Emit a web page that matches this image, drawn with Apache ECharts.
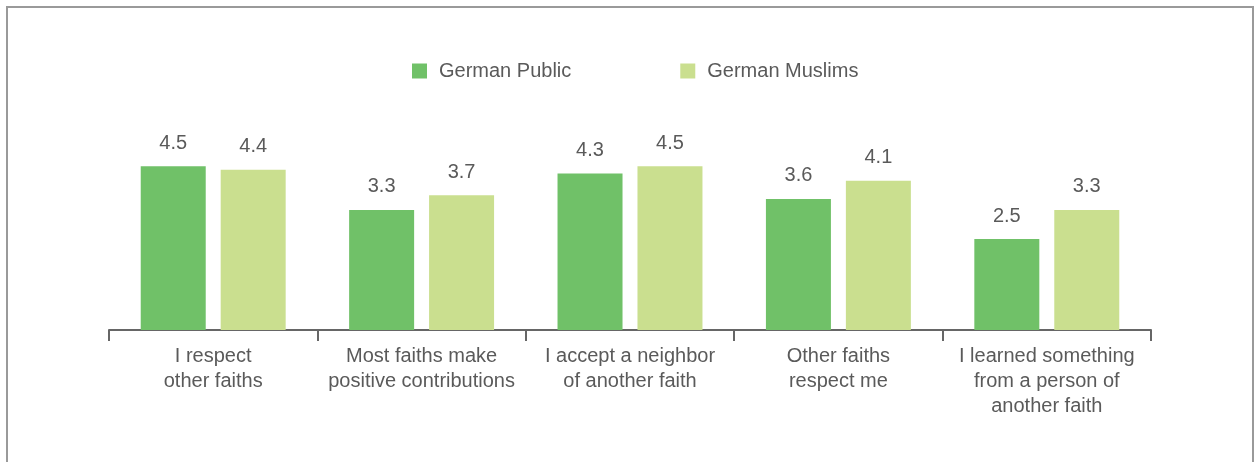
<!DOCTYPE html>
<html>
<head>
<meta charset="utf-8">
<script src="https://cdn.jsdelivr.net/npm/echarts@6/dist/echarts.min.js"></script>
<style>
html,body{margin:0;padding:0;background:#fff;}
#chart{width:1256px;height:462px;}
</style>
</head>
<body>
<div id="chart"></div>
<script>
const categories = [
  "I respect\nother faiths",
  "Most faiths make\npositive contributions",
  "I accept a neighbor\nof another faith",
  "Other faiths\nrespect me",
  "I learned something\nfrom a person of\nanother faith"
];
const seriesNames = ["German Public", "German Muslims"];
const germanPublic = [4.5, 3.3, 4.3, 3.6, 2.5];
const germanMuslims = [4.4, 3.7, 4.5, 4.1, 3.3];
const colors = ["#70c168", "#cadf8f"];

const font = "'Liberation Sans', Arial, Helvetica, sans-serif";
const textColor = "#5a5a5a";
const fs = 20;

const chart = echarts.init(document.getElementById('chart'), null, {renderer: 'canvas'});
chart.setOption({
  animation: false,
  backgroundColor: '#fff',
  graphic: [{
    type: 'rect',
    shape: {x: 7, y: 7, width: 1246, height: 480},
    style: {fill: 'none', stroke: '#9a9a9a', lineWidth: 2},
    silent: true
  }],
  legend: {
    top: 56,
    left: 407,
    itemWidth: 15,
    itemHeight: 15,
    itemGap: 109,
    icon: 'rect',
    textStyle: {fontFamily: font, fontSize: fs, color: textColor, padding: [0, 0, 0, 7]},
    data: seriesNames
  },
  grid: {left: 109, right: 105, top: 148, bottom: 132, containLabel: false},
  xAxis: {
    type: 'category',
    data: categories,
    axisLine: {lineStyle: {color: '#666', width: 2}},
    axisTick: {show: true, length: 11, lineStyle: {color: '#666', width: 2}},
    axisLabel: {fontFamily: font, fontSize: fs, color: textColor, lineHeight: 25, margin: 14, interval: 0}
  },
  yAxis: {
    type: 'value', min: 0, max: 5,
    show: false,
    splitLine: {show: false}
  },
  series: [
    {
      name: seriesNames[0], type: 'bar', data: germanPublic,
      barWidth: 65, barGap: '23%',
      itemStyle: {color: colors[0]},
      label: {show: true, position: 'top', distance: 13, fontFamily: font, fontSize: fs, color: textColor,
        formatter: p => p.value.toFixed(1)}
    },
    {
      name: seriesNames[1], type: 'bar', data: germanMuslims,
      barWidth: 65, barGap: '23%',
      itemStyle: {color: colors[1]},
      label: {show: true, position: 'top', distance: 13, fontFamily: font, fontSize: fs, color: textColor,
        formatter: p => p.value.toFixed(1)}
    }
  ]
});
</script>
</body>
</html>
